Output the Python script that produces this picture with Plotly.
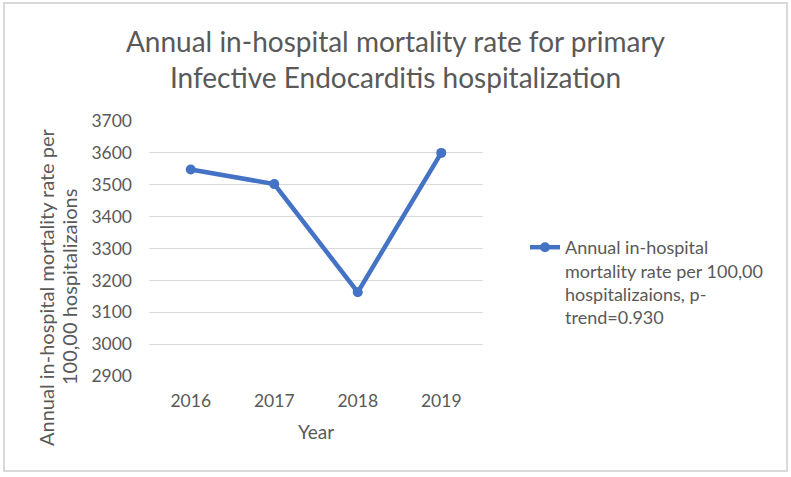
import plotly.graph_objects as go

years = ["2016", "2017", "2018", "2019"]
rates = [3548, 3502, 3163, 3600]
series_name = "Annual in-hospital<br>mortality rate per 100,00<br>hospitalizaions, p-<br>trend=0.930"
title_text = "Annual in-hospital mortality rate for primary<br>Infective Endocarditis hospitalization"
y_title_lines = ["Annual in-hospital mortality rate per", "100,00 hospitalizaions"]
x_title = "Year"
y_ticks = [2900, 3000, 3100, 3200, 3300, 3400, 3500, 3600, 3700]

W, H = 791, 477
L, R, T, B = 149, 308, 121, 101
pw = W - L - R
ph = H - T - B

FONT = "Lato"
GREY = "#595959"
BLUE = "#4472C4"

fig = go.Figure()
fig.add_trace(go.Scatter(
    x=years, y=rates, mode="lines+markers", name=series_name,
    line=dict(color=BLUE, width=4.5),
    marker=dict(color=BLUE, size=10),
))

def px_to_paper_x(px):
    return (px - L) / pw

def px_to_paper_y(py):
    return (H - B - py) / ph

annotations = []
for i, (line, xc) in enumerate(zip(y_title_lines, [46, 69])):
    annotations.append(dict(text=line, textangle=-90, xref="paper", yref="paper",
                            x=px_to_paper_x(xc), y=px_to_paper_y(287), xanchor="center",
                            yanchor="middle", showarrow=False,
                            font=dict(size=20, color=GREY, family=FONT)))

fig.update_layout(
    width=W, height=H,
    margin=dict(l=L, r=R, t=T, b=B),
    paper_bgcolor="white", plot_bgcolor="white",
    font=dict(family=FONT, color=GREY, size=16),
    title=dict(text=title_text, x=0.5, xanchor="center", xref="container",
               y=1 - 52 / H, yanchor="top", yref="container",
               font=dict(size=28, color=GREY, family=FONT)),
    showlegend=True,
    legend=dict(x=px_to_paper_x(525), xanchor="left", y=px_to_paper_y(229), yanchor="top",
                valign="top", font=dict(size=18, color=GREY, family=FONT),
                bgcolor="rgba(0,0,0,0)"),
    xaxis=dict(type="category", range=[-0.5, 3.5], showgrid=False, zeroline=False,
               showline=False, ticks="", ticklabelstandoff=12,
               tickfont=dict(size=17.5, color=GREY),
               title=dict(text=x_title, standoff=16, font=dict(size=19, color=GREY))),
    yaxis=dict(range=[2900, 3700], tickvals=y_ticks, showgrid=True, gridcolor="#d9d9d9",
               gridwidth=1.3, zeroline=False, showline=False, ticks="",
               ticklabelstandoff=16, tickfont=dict(size=17.5, color=GREY)),
    shapes=[dict(type="rect", xref="paper", yref="paper",
                 x0=px_to_paper_x(4), x1=px_to_paper_x(787),
                 y0=px_to_paper_y(471), y1=px_to_paper_y(3),
                 line=dict(color="#d9d9d9", width=2), fillcolor="rgba(0,0,0,0)", layer="below")],
    annotations=annotations,
)

fig.write_html("out.html", config={"displayModeBar": False},
               post_script="document.body.style.margin='0';")
